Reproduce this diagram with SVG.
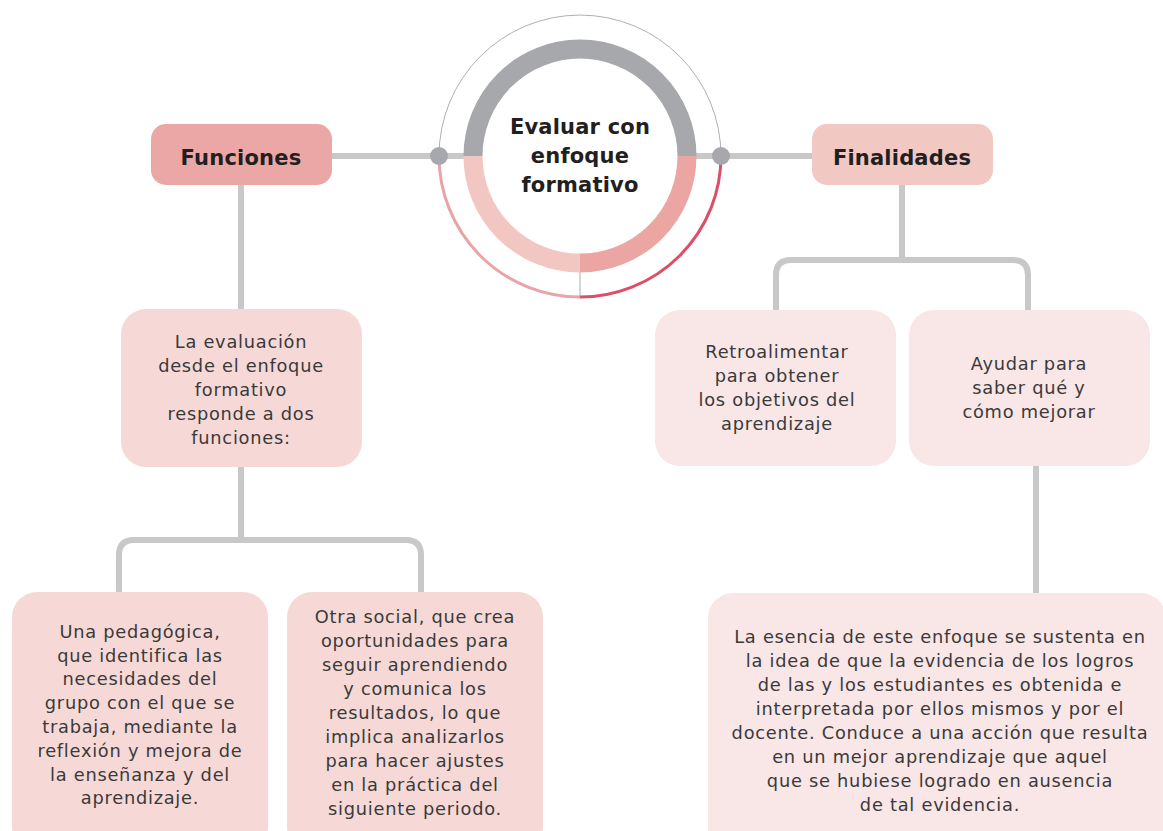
<svg xmlns="http://www.w3.org/2000/svg" width="1163" height="831" viewBox="0 0 1163 831">
<style>
.conn{fill:none;stroke:#c8c8c8;stroke-width:6}
.t{font-family:"DejaVu Sans","Noto Sans",sans-serif;font-size:17.8px;fill:#3a3a3a;text-anchor:middle;letter-spacing:0.75px}
.h{font-family:"DejaVu Sans","Noto Sans",sans-serif;font-size:21px;font-weight:bold;fill:#231f20;text-anchor:middle;letter-spacing:0.2px}
.b1{fill:#f6d9d6}
.b2{fill:#f9e6e6}
</style>
<rect width="1163" height="831" fill="#ffffff"/>
<g id="connectors">
<line class="conn" x1="331" y1="156" x2="475" y2="156"/>
<line class="conn" x1="685" y1="156" x2="812" y2="156"/>
<line class="conn" x1="241" y1="185" x2="241" y2="310"/>
<path class="conn" d="M241,467 V540 M119,592 V555 Q119,540 134,540 H406 Q421,540 421,555 V592"/>
<path class="conn" d="M902,185 V260 M776,310 V275 Q776,260 791,260 H1013 Q1028,260 1028,275 V310"/>
<line class="conn" x1="1036" y1="466" x2="1036" y2="593"/>
</g>
<g id="center">
<path d="M439,156 A141,141 0 0 1 721,156" fill="none" stroke="#9a9a9a" stroke-width="0.8"/>
<path d="M439,156 A141,141 0 0 0 580,297" fill="none" stroke="#e9a4a7" stroke-width="3"/>
<path d="M580,297 A141,141 0 0 0 721,156" fill="none" stroke="#dd4f68" stroke-width="3"/>
<line x1="580" y1="272" x2="580" y2="297" stroke="#9a9a9a" stroke-width="0.8"/>
<path d="M473,156 A107,107 0 0 1 687,156" fill="none" stroke="#a7a8ac" stroke-width="19"/>
<path d="M473,156 A107,107 0 0 0 580,263" fill="none" stroke="#f2c7c2" stroke-width="19"/>
<path d="M580,263 A107,107 0 0 0 687,156" fill="none" stroke="#eba6a4" stroke-width="19"/>
<circle cx="439" cy="156" r="9" fill="#a7a8ac"/>
<circle cx="721" cy="156" r="9" fill="#a7a8ac"/>
<text class="h" x="580"><tspan x="580" y="134">Evaluar con</tspan><tspan x="580" y="163">enfoque</tspan><tspan x="580" y="192">formativo</tspan></text>
</g>
<g id="funciones">
<rect x="151" y="124" width="181" height="61" rx="15" fill="#eba7a5"/>
<text class="h" x="241" y="165">Funciones</text>
</g>
<g id="finalidades">
<rect x="812" y="124" width="181" height="61" rx="15" fill="#f2c8c3"/>
<text class="h" x="902" y="165">Finalidades</text>
</g>
<g id="evaluacion">
<rect class="b1" x="121" y="309" width="241" height="158" rx="25"/>
<text class="t"><tspan x="241" y="348">La evaluación</tspan><tspan x="241" y="372">desde el enfoque</tspan><tspan x="241" y="396">formativo</tspan><tspan x="241" y="420">responde a dos</tspan><tspan x="241" y="444">funciones:</tspan></text>
</g>
<g id="pedagogica">
<rect class="b1" x="12" y="592" width="256" height="260" rx="25"/>
<text class="t"><tspan x="140" y="638">Una pedagógica,</tspan><tspan x="140" y="662">que identifica las</tspan><tspan x="140" y="685">necesidades del</tspan><tspan x="140" y="709">grupo con el que se</tspan><tspan x="140" y="733">trabaja, mediante la</tspan><tspan x="140" y="757">reflexión y mejora de</tspan><tspan x="140" y="781">la enseñanza y del</tspan><tspan x="140" y="804">aprendizaje.</tspan></text>
</g>
<g id="social">
<rect class="b1" x="287" y="592" width="256" height="260" rx="25"/>
<text class="t"><tspan x="415" y="623">Otra social, que crea</tspan><tspan x="415" y="647">oportunidades para</tspan><tspan x="415" y="671">seguir aprendiendo</tspan><tspan x="415" y="695">y comunica los</tspan><tspan x="415" y="719">resultados, lo que</tspan><tspan x="415" y="743">implica analizarlos</tspan><tspan x="415" y="767">para hacer ajustes</tspan><tspan x="415" y="791">en la práctica del</tspan><tspan x="415" y="815">siguiente periodo.</tspan></text>
</g>
<g id="retroalimentar">
<rect class="b2" x="655" y="310" width="241" height="156" rx="25"/>
<text class="t"><tspan x="777" y="358">Retroalimentar</tspan><tspan x="777" y="382">para obtener</tspan><tspan x="777" y="406">los objetivos del</tspan><tspan x="777" y="430">aprendizaje</tspan></text>
</g>
<g id="ayudar">
<rect class="b2" x="909" y="310" width="241" height="156" rx="25"/>
<text class="t"><tspan x="1029" y="370">Ayudar para</tspan><tspan x="1029" y="394">saber qué y</tspan><tspan x="1029" y="418">cómo mejorar</tspan></text>
</g>
<g id="esencia">
<rect class="b2" x="708" y="593" width="458" height="260" rx="25"/>
<text class="t"><tspan x="940" y="643">La esencia de este enfoque se sustenta en</tspan><tspan x="940" y="667">la idea de que la evidencia de los logros</tspan><tspan x="940" y="691">de las y los estudiantes es obtenida e</tspan><tspan x="940" y="715">interpretada por ellos mismos y por el</tspan><tspan x="940" y="739">docente. Conduce a una acción que resulta</tspan><tspan x="940" y="763">en un mejor aprendizaje que aquel</tspan><tspan x="940" y="787">que se hubiese logrado en ausencia</tspan><tspan x="940" y="811">de tal evidencia.</tspan></text>
</g>
</svg>
